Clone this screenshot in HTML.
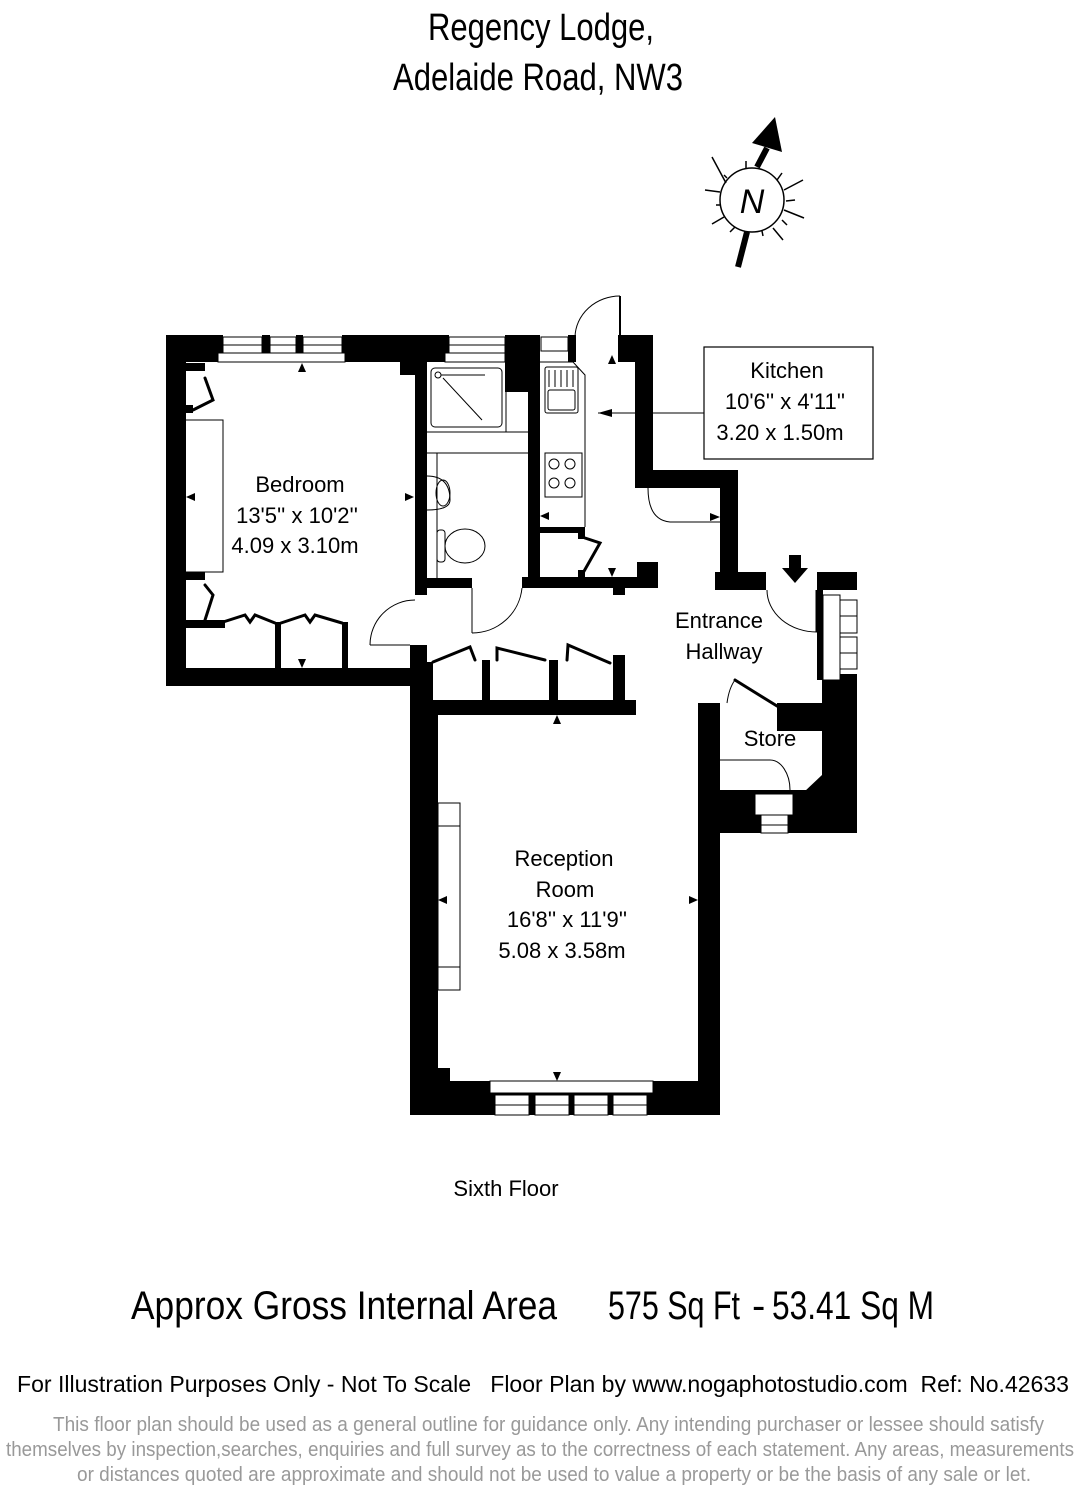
<!DOCTYPE html>
<html><head><meta charset="utf-8"><style>
html,body{margin:0;padding:0;background:#fff;}
svg{display:block;}
text{font-family:"Liberation Sans",sans-serif;white-space:pre;}
</style></head><body>
<svg width="1080" height="1488" viewBox="0 0 1080 1488" xmlns="http://www.w3.org/2000/svg">
<rect width="1080" height="1488" fill="#fff"/>
<text x="541" y="40" font-size="38" text-anchor="middle" textLength="226" lengthAdjust="spacingAndGlyphs">Regency Lodge,</text>
<text x="538" y="90" font-size="38" text-anchor="middle" textLength="290" lengthAdjust="spacingAndGlyphs">Adelaide Road, NW3</text>

<g stroke="#000" fill="none">
<circle cx="752" cy="200" r="32" stroke-width="1.5"/>
<g stroke-width="1.5">
<line x1="726" y1="183" x2="712" y2="157"/>
<line x1="746" y1="168" x2="746" y2="161"/>
<line x1="777" y1="180" x2="782" y2="173"/>
<line x1="784" y1="190" x2="803" y2="180"/>
<line x1="786" y1="201" x2="795" y2="200"/>
<line x1="784" y1="210" x2="804" y2="218"/>
<line x1="782" y1="220" x2="787" y2="225"/>
<line x1="773" y1="228" x2="783" y2="240"/>
<line x1="762" y1="231" x2="763" y2="236"/>
<line x1="735" y1="227" x2="730" y2="232"/>
<line x1="724" y1="217" x2="712" y2="224"/>
<line x1="720" y1="205" x2="716" y2="205"/>
<line x1="720" y1="192" x2="705" y2="190"/>
<line x1="727" y1="178" x2="724" y2="175"/>
</g>
</g>
<line x1="738" y1="267" x2="747" y2="232" stroke="#000" stroke-width="6"/>
<line x1="757" y1="167" x2="767" y2="148" stroke="#000" stroke-width="6"/>
<polygon points="775,117 782,152 752,143" fill="#000"/>
<text x="752" y="213" font-size="34" text-anchor="middle" font-style="italic">N</text>

<rect x="704" y="347" width="169" height="112" fill="#fff" stroke="#000" stroke-width="1.2"/>
<line x1="704" y1="413" x2="598" y2="413" stroke="#000" stroke-width="1"/>
<polygon points="598,413 612,409 612,417" fill="#000"/>

<g fill="#000">
<rect x="166" y="335" width="20" height="351"/>
<rect x="166" y="335" width="57" height="27"/>
<rect x="342" y="335" width="107" height="27"/>
<rect x="400" y="355" width="17" height="20"/>
<rect x="262" y="335" width="8" height="20"/>
<rect x="296" y="335" width="7" height="20"/>
<rect x="415" y="335" width="12" height="260"/>
<rect x="166" y="668" width="261" height="18"/>
<rect x="410" y="645" width="17" height="470"/>
<rect x="185" y="363" width="20" height="8"/>
<rect x="185" y="405" width="8" height="8"/>
<rect x="185" y="572" width="20" height="8"/>
<rect x="185" y="620" width="40" height="8"/>
<rect x="275" y="622" width="6" height="46"/>
<rect x="342" y="622" width="6" height="46"/>
<rect x="505" y="335" width="35" height="27"/>
<rect x="505" y="355" width="23" height="37"/>
<rect x="528" y="335" width="12" height="253"/>
<rect x="568" y="335" width="8" height="27"/>
<rect x="618" y="335" width="35" height="27"/>
<rect x="635" y="335" width="18" height="153"/>
<rect x="635" y="470" width="103" height="18"/>
<rect x="720" y="470" width="18" height="120"/>
<rect x="715" y="572" width="51" height="18"/>
<rect x="427" y="578" width="45" height="10"/>
<rect x="522" y="577" width="136" height="11"/>
<rect x="637" y="562" width="21" height="26"/>
<rect x="613" y="586" width="12" height="9"/>
<rect x="540" y="527" width="45" height="6"/>
<rect x="578" y="533" width="7" height="6"/>
<rect x="578" y="570" width="7" height="8"/>
<rect x="817" y="572" width="40" height="18"/>
<rect x="817" y="590" width="6" height="90"/>
<rect x="822" y="674" width="35" height="159"/>
<rect x="427" y="662" width="6" height="41"/>
<rect x="482" y="660" width="8" height="43"/>
<rect x="549" y="660" width="9" height="43"/>
<rect x="613" y="655" width="12" height="48"/>
<rect x="410" y="700" width="226" height="15"/>
<rect x="410" y="700" width="28" height="415"/>
<rect x="698" y="703" width="22" height="412"/>
<rect x="410" y="1081" width="310" height="34"/>
<rect x="438" y="1068" width="12" height="14"/>
<rect x="777" y="703" width="46" height="28"/>
<rect x="720" y="790" width="137" height="43"/>
<polygon points="822,775 822,792 804,792"/>
</g>

<g fill="#fff" stroke="#000" stroke-width="1">
<rect x="223" y="337" width="39" height="16"/>
<rect x="270" y="337" width="26" height="16"/>
<rect x="303" y="337" width="39" height="16"/>
<rect x="449" y="337" width="56" height="16"/>
<rect x="541" y="337" width="27" height="14"/>
<rect x="218" y="353" width="127" height="9"/>
<rect x="445" y="353" width="60" height="9"/>
<rect x="823" y="595" width="17" height="85"/>
<rect x="840" y="600" width="17" height="33"/>
<rect x="840" y="637" width="17" height="32"/>
<rect x="755" y="794" width="38" height="21"/>
<rect x="761" y="815" width="27" height="18"/>
<rect x="490" y="1081" width="163" height="12"/>
<rect x="495" y="1095" width="34" height="20"/>
<rect x="535" y="1095" width="34" height="20"/>
<rect x="574" y="1095" width="34" height="20"/>
<rect x="613" y="1095" width="34" height="20"/>
</g>
<g stroke="#000" stroke-width="1" fill="none">
<line x1="223" y1="345" x2="342" y2="345"/>
<line x1="449" y1="345" x2="505" y2="345"/>
<line x1="840" y1="616" x2="857" y2="616"/>
<line x1="840" y1="653" x2="857" y2="653"/>
<line x1="761" y1="825" x2="788" y2="825"/>
<line x1="495" y1="1105" x2="647" y2="1105"/>
<rect x="185" y="420" width="38" height="152"/>
<rect x="431" y="368" width="71" height="59" rx="4"/>
<circle cx="438" cy="375" r="3"/>
<line x1="441" y1="375" x2="485" y2="375"/>
<line x1="443" y1="378" x2="482" y2="420"/>
<line x1="506" y1="392" x2="506" y2="432"/>
<line x1="427" y1="432" x2="528" y2="432"/>
<line x1="427" y1="453" x2="528" y2="453"/>
<line x1="437" y1="453" x2="437" y2="578"/>
<path d="M427 476 Q450 476 450 500 Q450 510 427 510"/>
<ellipse cx="443" cy="493" rx="7" ry="13"/>
<rect x="437" y="530" width="8" height="32" rx="3"/>
<ellipse cx="465" cy="546" rx="20" ry="17"/>
<line x1="472" y1="588" x2="472" y2="633"/>
<path d="M472 633 A50 50 0 0 0 522 588"/>
<path d="M370 645 A45 45 0 0 1 415 600"/>
<line x1="370" y1="645" x2="410" y2="645"/>
<path d="M540 362 L573 362 L585 375 L585 527"/>
<rect x="545" y="367" width="33" height="46" rx="2"/>
<rect x="548" y="390" width="27" height="20" rx="2"/>
<line x1="549" y1="370" x2="549" y2="387"/><line x1="555" y1="370" x2="555" y2="387"/><line x1="561" y1="370" x2="561" y2="387"/><line x1="567" y1="370" x2="567" y2="387"/><line x1="573" y1="370" x2="573" y2="387"/>
<rect x="545" y="453" width="37" height="44"/>
<circle cx="554" cy="464" r="5"/><circle cx="570" cy="464" r="5"/>
<circle cx="554" cy="483" r="5"/><circle cx="570" cy="483" r="5"/>
<line x1="620" y1="296" x2="620" y2="335" stroke-width="2"/>
<path d="M575 337 A45 42 0 0 1 620 296"/>
<path d="M648 488 Q648 520 670 522 L720 522"/>
<path d="M767 590 A50 42 0 0 0 817 632"/>
<line x1="817" y1="590" x2="817" y2="632" stroke-width="3"/>
<path d="M727 703 Q729 688 735 680"/>
<path d="M720 760 L770 760 A20 30 0 0 1 790 790"/>
<rect x="438" y="803" width="22" height="187"/>
<line x1="438" y1="826" x2="460" y2="826"/>
<line x1="438" y1="967" x2="460" y2="967"/>
</g>
<g stroke="#000" stroke-width="3" fill="none" stroke-linecap="round">
<polyline points="205,378 213,400 193,410"/>
<polyline points="205,585 213,595 205,620"/>
<polyline points="220,623 245,615 250,622 255,615 275,623"/>
<polyline points="281,623 305,615 310,622 315,615 342,623"/>
<polyline points="433,662 470,647 475,660"/>
<polyline points="497,660 497,648 545,660"/>
<polyline points="567,660 568,645 610,663"/>
<line x1="735" y1="680" x2="777" y2="706"/>
<polyline points="585,538 600,543 583,573"/>
</g>
<g fill="#000">
<polygon points="302,363 298,372 306,372"/>
<polygon points="186,497 195,493 195,501"/>
<polygon points="414,497 405,493 405,501"/>
<polygon points="302,668 298,659 306,659"/>
<polygon points="612,355 608,364 616,364"/>
<polygon points="540,516 549,512 549,520"/>
<polygon points="612,577 608,568 616,568"/>
<polygon points="720,517 710,513 710,521"/>
<rect x="789" y="555" width="12" height="14"/>
<polygon points="782,568 808,568 795,583"/>
<polygon points="557,715 553,724 561,724"/>
<polygon points="438,900 447,896 447,904"/>
<polygon points="698,900 689,896 689,904"/>
<polygon points="557,1081 553,1072 561,1072"/>
</g>

<g font-size="22" text-anchor="middle" fill="#000">
<text x="300" y="492">Bedroom</text>
<text x="297" y="523">13'5'' x 10'2''</text>
<text x="295" y="553">4.09 x 3.10m</text>
<text x="787" y="378">Kitchen</text>
<text x="785" y="409">10'6'' x 4'11''</text>
<text x="780" y="440">3.20 x 1.50m</text>
<text x="719" y="628">Entrance</text>
<text x="724" y="659">Hallway</text>
<text x="770" y="746">Store</text>
<text x="564" y="866">Reception</text>
<text x="565" y="897">Room</text>
<text x="567" y="927">16'8'' x 11'9''</text>
<text x="562" y="958">5.08 x 3.58m</text>
<text x="506" y="1196">Sixth Floor</text>
</g>

<text x="131" y="1319" font-size="40" textLength="426" lengthAdjust="spacingAndGlyphs">Approx Gross Internal Area</text>
<text x="608" y="1319" font-size="40" textLength="132" lengthAdjust="spacingAndGlyphs">575 Sq Ft</text>
<text x="752" y="1319" font-size="40">-</text>
<text x="772" y="1319" font-size="40" textLength="162" lengthAdjust="spacingAndGlyphs">53.41 Sq M</text>
<text x="17" y="1392" font-size="23" textLength="1052" lengthAdjust="spacingAndGlyphs">For Illustration Purposes Only - Not To Scale   Floor Plan by www.nogaphotostudio.com  Ref: No.42633</text>
<g font-size="20" fill="#999">
<text x="53" y="1431" textLength="991" lengthAdjust="spacingAndGlyphs">This floor plan should be used as a general outline for guidance only. Any intending purchaser or lessee should satisfy</text>
<text x="6" y="1456" textLength="1068" lengthAdjust="spacingAndGlyphs">themselves by inspection,searches, enquiries and full survey as to the correctness of each statement. Any areas, measurements</text>
<text x="77" y="1481" textLength="954" lengthAdjust="spacingAndGlyphs">or distances quoted are approximate and should not be used to value a property or be the basis of any sale or let.</text>
</g>
</svg>
</body></html>
